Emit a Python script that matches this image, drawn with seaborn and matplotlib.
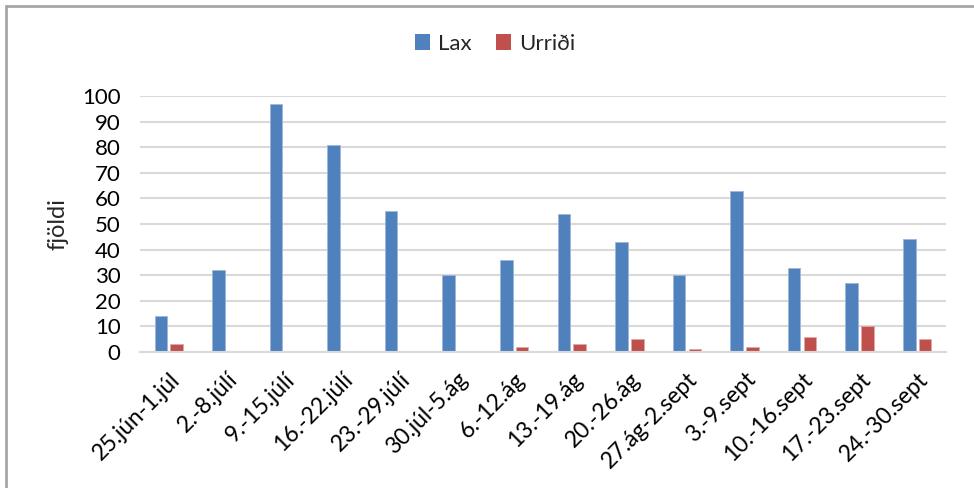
import seaborn as sns
import matplotlib.pyplot as plt
import pandas as pd
from matplotlib.patches import Rectangle

# Données
weeks = ["25.jún-1.júl", "2.-8.júlí", "9.-15.júlí", "16.-22.júlí", "23.-29.júlí",
         "30.júl-5.ág", "6.-12.ág", "13.-19.ág", "20.-26.ág", "27.ág-2.sept",
         "3.-9.sept", "10.-16.sept", "17.-23.sept", "24.-30.sept"]
lax = [14, 32, 97, 81, 55, 30, 36, 54, 43, 30, 63, 33, 27, 44]
urridi = [3, 0, 0, 0, 0, 0, 2, 3, 5, 1, 2, 6, 10, 5]

df = pd.DataFrame({"vika": weeks, "Lax": lax, "Urriði": urridi})
df_long = pd.melt(df, id_vars="vika", var_name="tegund", value_name="fjöldi")

sns.set_theme(style="white")
plt.rcParams['font.family'] = ['Lato', 'DejaVu Sans']

fig = plt.figure(figsize=(9.74, 4.88), dpi=100)
ax = fig.add_axes([140 / 974, 1 - 352 / 488, 806 / 974, 256 / 488])

sns.barplot(data=df_long, x="vika", y="fjöldi", hue="tegund",
            palette=["#4F81BD", "#C0504D"], saturation=1, width=0.55, gap=0.2,
            linewidth=0.6, ax=ax)
# bordure claire des barres
for cont, ec in zip(ax.containers, ["#9DB6DA", "#E0A9A8"]):
    for p in cont:
        p.set_edgecolor(ec)

ax.set_ylim(0, 100)
ax.set_yticks(range(0, 101, 10))
ax.set_xlim(-0.5, len(weeks) - 0.5)
ax.yaxis.grid(True, color="#D9D9D9", linewidth=1.5)
ax.set_axisbelow(True)
for s in ["top", "right", "left"]:
    ax.spines[s].set_visible(False)
ax.spines["bottom"].set_color("#D9D9D9")
ax.spines["bottom"].set_linewidth(1.5)

ax.tick_params(axis="y", labelsize=16, pad=14, length=0, colors="black")
ax.tick_params(axis="x", labelsize=16.5, pad=12, length=0, colors="black")
plt.setp(ax.get_xticklabels(), rotation=45, ha="right", rotation_mode="anchor")
ax.set_xlabel("")
ax.set_ylabel("fjöldi", fontsize=17, labelpad=10)

ax.legend(loc="center", ncol=2, frameon=False, fontsize=16,
          handlelength=0.7, handleheight=0.7, handletextpad=0.35, columnspacing=1.1)
leg = ax.get_legend()
leg.set_bbox_to_anchor((495 / 974, 1 - 44 / 488), transform=fig.transFigure)
for h in leg.legend_handles:
    h.set_edgecolor("none")

# cadre du graphique
fig.patches.append(Rectangle((6 / 974, -0.05), 1.1, 1 - 6 / 488 + 0.05,
                             transform=fig.transFigure, fill=False,
                             edgecolor="#A6A6A6", linewidth=2))

plt.savefig("out.png", dpi=100)
